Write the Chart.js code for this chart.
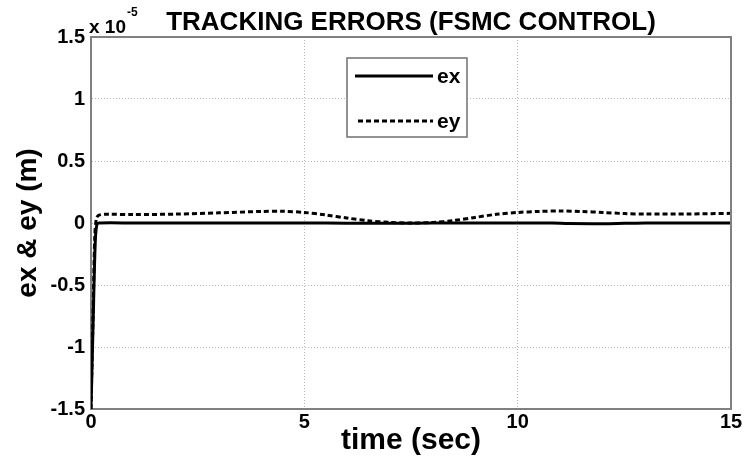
<!DOCTYPE html>
<html><head><meta charset="utf-8">
<script src="https://cdn.jsdelivr.net/npm/chart.js@4"></script>
<style>html,body{margin:0;padding:0;background:#fff}#wrap{width:744px;height:459px}</style>
</head><body><div id="wrap"><canvas id="c" width="744" height="459"></canvas></div>
<script>
const chartTitle = "TRACKING ERRORS (FSMC CONTROL)";
const xTitle = "time (sec)";
const yTitle = "ex & ey (m)";
const seriesNames = ["ex", "ey"];
const exTime = [0, 0.05, 0.1, 0.14, 0.2, 1, 3, 5, 6, 7, 8, 9, 10, 10.8, 11.2, 12, 12.5, 13, 14, 15];
const exVals = [-1.5, -0.8, -0.15, -0.01, 0, 0, 0, 0, -0.002, -0.003, -0.001, 0, 0, 0, -0.005, -0.006, -0.003, 0, 0, 0];
const eyTime = [0, 0.05, 0.09, 0.13, 0.2, 0.4, 1, 2, 3, 4, 4.5, 5, 5.5, 6, 6.5, 7, 7.5, 8, 8.5, 9, 9.5, 10, 10.5, 11, 11.5, 12, 12.5, 13, 14, 15];
const eyVals = [-1.5, -0.7, -0.1, 0.04, 0.065, 0.07, 0.068, 0.072, 0.082, 0.093, 0.095, 0.085, 0.065, 0.04, 0.018, 0.005, 0.0, 0.004, 0.02, 0.045, 0.07, 0.085, 0.093, 0.097, 0.093, 0.085, 0.076, 0.072, 0.073, 0.078];
const xTicks = [0, 5, 10, 15];
const yTickValues = [-1.5, -1, -0.5, 0, 0.5, 1, 1.5];
const yTickLabels = ["-1.5", "-1", "-0.5", "0", "0.5", "1", "1.5"];
const exponentBase = "x 10";
const exponentPower = "-5";

const FONT = "'Liberation Sans', Arial, sans-serif";

const decor = {
  id: 'decor',
  afterDraw(chart) {
    const {ctx, chartArea: a} = chart;
    ctx.save();
    // top/right frame
    ctx.strokeStyle = '#808080';
    ctx.lineWidth = 2;
    ctx.beginPath();
    ctx.moveTo(a.left, a.top); ctx.lineTo(a.right, a.top); ctx.lineTo(a.right, a.bottom);
    ctx.stroke();
    ctx.fillStyle = '#000';
    // title
    ctx.font = "bold 26px " + FONT;
    ctx.textAlign = 'center'; ctx.textBaseline = 'alphabetic';
    ctx.fillText(chartTitle, (a.left + a.right) / 2, 30);
    // exponent
    ctx.font = "bold 19px " + FONT;
    ctx.textAlign = 'left';
    ctx.fillText(exponentBase, a.left - 2, 33);
    const w = ctx.measureText(exponentBase).width;
    ctx.font = "bold 12px " + FONT;
    ctx.fillText(exponentPower, a.left - 2 + w + 1, 16);
    // legend
    const lx = a.left + 256, ly = a.top + 21, lw = 120, lh = 79;
    ctx.fillStyle = '#fff';
    ctx.fillRect(lx, ly, lw, lh);
    ctx.strokeStyle = '#707070'; ctx.lineWidth = 1.5;
    ctx.strokeRect(lx, ly, lw, lh);
    const ds = chart.data.datasets;
    const rows = [ly + 18, ly + 63];
    ds.forEach((d, i) => {
      ctx.strokeStyle = '#000';
      ctx.lineWidth = 3;
      ctx.setLineDash(d.borderDash || []);
      ctx.beginPath();
      ctx.moveTo(lx + (i ? 11 : 8), rows[i]); ctx.lineTo(lx + 86, rows[i]);
      ctx.stroke();
      ctx.setLineDash([]);
      ctx.fillStyle = '#000';
      ctx.font = "bold 21px " + FONT;
      ctx.textAlign = 'left'; ctx.textBaseline = 'middle';
      ctx.fillText(d.label, lx + 90, rows[i] + 1);
    });
    ctx.restore();
  }
};

new Chart(document.getElementById('c'), {
  type: 'line',
  data: {
    datasets: [
      { label: seriesNames[0], data: exTime.map((t, i) => ({x: t, y: exVals[i]})), borderColor: '#000', borderWidth: 3, pointRadius: 0, tension: 0.3, fill: false },
      { label: seriesNames[1], data: eyTime.map((t, i) => ({x: t, y: eyVals[i]})), borderColor: '#000', borderWidth: 3, borderDash: [5, 3], pointRadius: 0, tension: 0.3, fill: false }
    ]
  },
  options: {
    responsive: false,
    animation: false,
    layout: { padding: { top: 37, right: 13, bottom: 0, left: 0 } },
    plugins: { legend: { display: false }, title: { display: false }, tooltip: { enabled: false } },
    scales: {
      x: {
        type: 'linear', min: 0, max: 15,
        afterBuildTicks: s => { s.ticks = xTicks.map(v => ({value: v})); },
        afterFit: s => { s.height = 50; },
        ticks: { color: '#000', font: { family: FONT, size: 20, weight: 'bold' }, padding: 1, maxRotation: 0 },
        grid: { color: '#b8b8b8', drawTicks: false, lineWidth: 1 },
        border: { display: true, color: '#808080', width: 2, dash: [1, 2] },
        title: { display: true, text: xTitle, color: '#000', font: { family: FONT, size: 30, weight: 'bold', lineHeight: 1.2 }, padding: { top: 0, bottom: 0 } }
      },
      y: {
        type: 'linear', min: -1.5, max: 1.5,
        afterBuildTicks: s => { s.ticks = yTickValues.map(v => ({value: v})); },
        afterFit: s => { s.width = 91; },
        ticks: { color: '#000', font: { family: FONT, size: 20, weight: 'bold' }, padding: 6,
          callback: v => { const i = yTickValues.indexOf(v); return i >= 0 ? yTickLabels[i] : ''; } },
        grid: { color: '#b8b8b8', drawTicks: false, lineWidth: 1 },
        border: { display: true, color: '#808080', width: 2, dash: [1, 2] },
        title: { display: true, text: yTitle, color: '#000', font: { family: FONT, size: 28, weight: 'bold', lineHeight: 1.2 }, padding: { top: 11, bottom: 0 } }
      }
    }
  },
  plugins: [decor]
});
</script>
</body></html>
